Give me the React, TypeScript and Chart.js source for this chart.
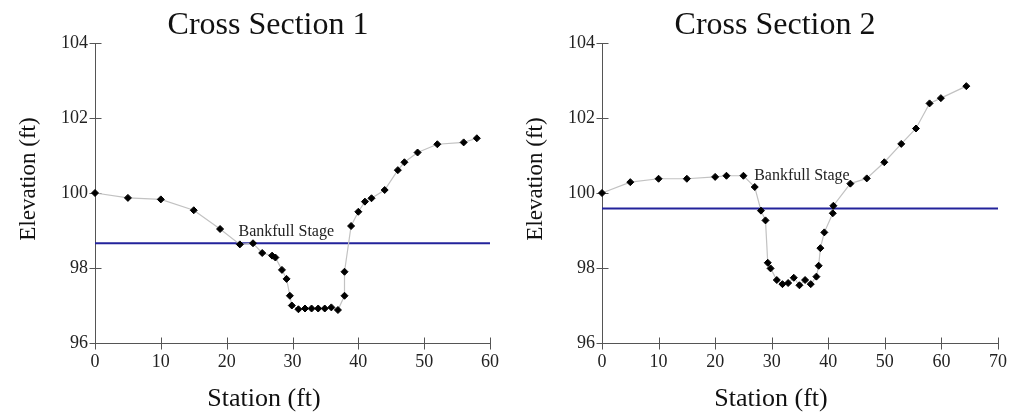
import React, { useEffect, useRef } from "react";
import { Chart, registerables } from "chart.js";

Chart.register(...registerables);

// Cross section 1 survey: station (ft) and ground elevation (ft)
const station1 = [
  0, 5, 10, 15, 19, 22, 24, 25.4, 26.9, 27.4, 28.4, 29.1, 29.6, 29.9, 30.9, 31.9,
  32.9, 33.9, 34.9, 35.9, 36.9, 37.9, 37.9, 38.9, 40, 41, 42, 44, 46, 47, 49, 52, 56, 58,
];
const elevation1 = [
  100.0, 99.87, 99.83, 99.54, 99.04, 98.63, 98.66, 98.4, 98.33, 98.28, 97.95, 97.71,
  97.26, 97.0, 96.9, 96.92, 96.92, 96.92, 96.92, 96.95, 96.88, 97.26, 97.9, 99.12,
  99.5, 99.77, 99.86, 100.08, 100.61, 100.82, 101.08, 101.3, 101.35, 101.46,
];
const bankfull1 = 98.66;

// Cross section 2 survey
const station2 = [
  0, 5, 10, 15, 20, 22, 25, 27, 28.1, 28.9, 29.3, 29.8, 30.9, 31.9, 32.9, 33.9, 34.9,
  35.9, 36.9, 37.9, 38.3, 38.6, 39.3, 40.8, 40.9, 43.9, 46.8, 49.9, 52.9, 55.5, 57.9,
  59.9, 64.4,
];
const elevation2 = [
  100.0, 100.29, 100.38, 100.38, 100.43, 100.46, 100.46, 100.16, 99.53, 99.27, 98.14,
  97.99, 97.68, 97.57, 97.6, 97.74, 97.54, 97.68, 97.57, 97.77, 98.06, 98.53, 98.95,
  99.46, 99.66, 100.25, 100.39, 100.82, 101.31, 101.72, 102.39, 102.53, 102.85,
];
const bankfull2 = 99.59;

// Axis ticks
const elevationTicks = [96, 98, 100, 102, 104];
const stationTicks1 = [0, 10, 20, 30, 40, 50, 60];
const stationTicks2 = [0, 10, 20, 30, 40, 50, 60, 70];

// Text
const sectionTitles = ["Cross Section 1", "Cross Section 2"];
const bankfullText = "Bankfull Stage";
const stationTitle = "Station (ft)";
const elevationTitle = "Elevation (ft)";

// Where the bankfull caption sits, in station / elevation units
const bankfullLabelAt1 = [21.8, 98.85];
const bankfullLabelAt2 = [26.9, 100.36];

const SERIF = "'Liberation Serif', 'Times New Roman', serif";

type SectionSpec = {
  title: string;
  station: number[];
  elevation: number[];
  bankfull: number;
  xTicks: number[];
  labelAt: number[];
  width: number;
};

const sections: SectionSpec[] = [
  {
    title: sectionTitles[0],
    station: station1,
    elevation: elevation1,
    bankfull: bankfull1,
    xTicks: stationTicks1,
    labelAt: bankfullLabelAt1,
    width: 507,
  },
  {
    title: sectionTitles[1],
    station: station2,
    elevation: elevation2,
    bankfull: bankfull2,
    xTicks: stationTicks2,
    labelAt: bankfullLabelAt2,
    width: 508,
  },
];

function decorPlugin(spec: SectionSpec) {
  return {
    id: "sectionDecor",
    beforeDatasetsDraw(chart: any) {
      const { ctx, chartArea: a, scales } = chart;
      const xs = scales.x;
      const ys = scales.y;
      ctx.save();
      ctx.strokeStyle = "#555";
      ctx.lineWidth = 1;
      ctx.beginPath();
      const left = Math.round(a.left) + 0.5;
      const bottom = Math.round(a.bottom) + 0.5;
      ctx.moveTo(left, a.top);
      ctx.lineTo(left, bottom);
      ctx.lineTo(a.right, bottom);
      for (const v of elevationTicks) {
        const y = Math.round(ys.getPixelForValue(v)) + 0.5;
        ctx.moveTo(left - 6, y);
        ctx.lineTo(left + 6, y);
      }
      for (const v of spec.xTicks) {
        const x = Math.round(xs.getPixelForValue(v)) + 0.5;
        ctx.moveTo(x, bottom - 6);
        ctx.lineTo(x, bottom + 6);
      }
      ctx.stroke();
      ctx.restore();
    },
    afterDraw(chart: any) {
      const { ctx, chartArea: a, scales } = chart;
      const xs = scales.x;
      const ys = scales.y;
      ctx.save();
      ctx.fillStyle = "#111";
      ctx.textBaseline = "alphabetic";

      ctx.textAlign = "center";
      ctx.font = `32px ${SERIF}`;
      ctx.fillText(spec.title, a.left + 173, 34);

      ctx.font = `26px ${SERIF}`;
      ctx.fillText(stationTitle, a.left + 169, 406);

      ctx.save();
      ctx.translate(35, a.top + 136);
      ctx.rotate(-Math.PI / 2);
      ctx.font = `23px ${SERIF}`;
      ctx.fillText(elevationTitle, 0, 0);
      ctx.restore();

      ctx.textAlign = "left";
      ctx.font = `16px ${SERIF}`;
      ctx.fillStyle = "#222";
      ctx.fillText(
        bankfullText,
        xs.getPixelForValue(spec.labelAt[0]),
        ys.getPixelForValue(spec.labelAt[1])
      );
      ctx.restore();
    },
  };
}

function SectionChart({ spec, left }: { spec: SectionSpec; left: number }) {
  const ref = useRef<HTMLCanvasElement | null>(null);

  useEffect(() => {
    if (!ref.current) return;
    const xMax = spec.xTicks[spec.xTicks.length - 1];
    const tickFont = { family: SERIF, size: 18 };
    const chart = new Chart(ref.current, {
      type: "scatter",
      data: {
        datasets: [
          {
            data: spec.station.map((x, i) => ({ x, y: spec.elevation[i] })),
            showLine: true,
            borderColor: "#c2c2c2",
            borderWidth: 1.2,
            pointStyle: "rectRot",
            pointRadius: 3.5,
            pointBackgroundColor: "#000",
            pointBorderColor: "#000",
            pointBorderWidth: 1,
            order: 0,
            clip: false,
          },
          {
            data: [
              { x: 0, y: spec.bankfull },
              { x: xMax, y: spec.bankfull },
            ],
            showLine: true,
            borderColor: "#23239b",
            borderWidth: 2,
            pointRadius: 0,
            order: 1,
          },
        ],
      } as any,
      options: {
        responsive: false,
        animation: false,
        devicePixelRatio: 1,
        layout: { padding: { left: 0, right: spec.width - 494, top: 43, bottom: 0 } },
        plugins: {
          legend: { display: false },
          tooltip: { enabled: false },
          title: { display: false },
        },
        scales: {
          x: {
            type: "linear",
            min: 0,
            max: xMax,
            afterBuildTicks: (s: any) => {
              s.ticks = spec.xTicks.map((value) => ({ value }));
            },
            afterFit: (s: any) => {
              s.height = 74;
            },
            grid: { display: false, drawTicks: false },
            border: { display: false },
            ticks: {
              font: tickFont,
              color: "#222",
              padding: 8,
              maxRotation: 0,
              autoSkip: false,
              callback: (v: any) => String(v),
            },
          },
          y: {
            type: "linear",
            min: elevationTicks[0],
            max: elevationTicks[elevationTicks.length - 1],
            afterBuildTicks: (s: any) => {
              s.ticks = elevationTicks.map((value) => ({ value }));
            },
            afterFit: (s: any) => {
              s.width = 95;
            },
            grid: { display: false, drawTicks: false },
            border: { display: false },
            ticks: {
              font: tickFont,
              color: "#222",
              padding: 7,
              autoSkip: false,
              callback: (v: any) => String(v),
            },
          },
        },
      } as any,
      plugins: [decorPlugin(spec)],
    });
    return () => chart.destroy();
  }, [spec]);

  return (
    <canvas
      ref={ref}
      width={spec.width}
      height={417}
      style={{ position: "absolute", left, top: 0, width: spec.width, height: 417, display: "block" }}
    />
  );
}

export default function App() {
  return (
    <div
      style={{
        position: "absolute",
        left: 0,
        top: 0,
        width: 1015,
        height: 417,
        background: "#fff",
        overflow: "hidden",
      }}
    >
      <SectionChart spec={sections[0]} left={0} />
      <SectionChart spec={sections[1]} left={507} />
    </div>
  );
}
